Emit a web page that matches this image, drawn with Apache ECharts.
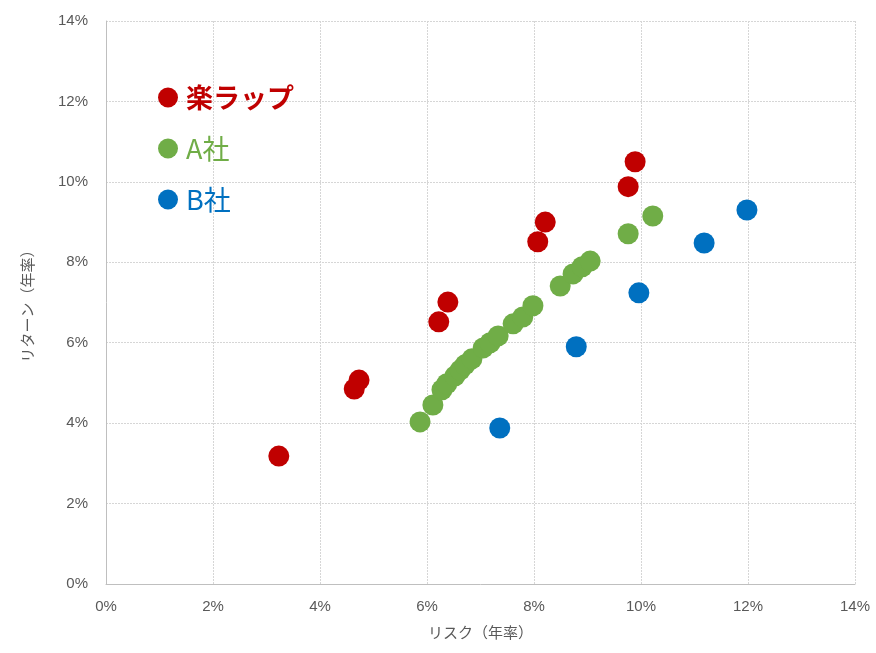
<html>
  <head>
    <meta charset="utf-8" />
    <script src="https://cdn.jsdelivr.net/npm/echarts@6/dist/echarts.min.js"></script>
  </head>
  <body>
    <style>
      html,
      body,
      #main {
        width: 100%;
        height: 100%;
        margin: 0;
        background: #fff;
      }
    </style>
    <div id="main"></div>
    <script>
      // [risk %, return %]
      const rakuWrap = [
        [3.23, 3.18], [4.64, 4.85], [4.73, 5.07], [6.22, 6.52], [6.39, 7.01],
        [8.07, 8.51], [8.21, 9.0], [9.76, 9.88], [9.89, 10.5],
      ];
      const companyA = [
        [5.87, 4.03], [6.11, 4.45], [6.28, 4.83], [6.37, 4.98], [6.52, 5.17],
        [6.62, 5.32], [6.71, 5.45], [6.84, 5.6], [7.05, 5.87], [7.18, 6.0],
        [7.33, 6.17], [7.61, 6.47], [7.79, 6.64], [7.98, 6.92], [8.49, 7.41],
        [8.73, 7.71], [8.9, 7.89], [9.05, 8.03], [9.76, 8.71], [10.22, 9.15],
      ];
      const companyB = [
        [7.36, 3.88], [8.79, 5.9], [9.96, 7.24], [11.18, 8.48], [11.98, 9.3],
      ];
      const seriesNames = ["楽ラップ", "A社", "B社"];
      const colors = ["#C00000", "#70AD47", "#0070C0"];

      const font = "Liberation Sans, 'Noto Sans CJK JP', sans-serif";
      var chart = echarts.init(document.getElementById("main"));

      const axisCommon = {
        type: "value",
        min: 0,
        max: 14,
        interval: 2,
        axisLine: { show: true, lineStyle: { color: "#BFBFBF", width: 1 } },
        axisTick: { show: false },
        splitLine: {
          show: true,
          lineStyle: { color: "#D6D6D6", type: [2, 1], width: 1 },
        },
        axisLabel: {
          formatter: "{value}%",
          color: "#595959",
          fontSize: 15,
          fontFamily: font,
        },
        nameTextStyle: { color: "#595959", fontSize: 15, fontFamily: font },
      };

      var option = {
        animation: false,
        color: colors,
        grid: { left: 106, right: 21, top: 21, bottom: 69, containLabel: false },
        legend: {
          orient: "vertical",
          left: 153,
          top: 79,
          itemWidth: 20,
          itemHeight: 20,
          itemGap: 24,
          icon: "circle",
          data: seriesNames.map((name, i) => ({
            name,
            textStyle: {
              color: colors[i],
              fontSize: 27,
              fontWeight: i === 0 ? "bold" : "normal",
              fontFamily: "'Noto Sans CJK JP', sans-serif",
              padding: [0, 0, 0, 3],
            },
          })),
        },
        xAxis: Object.assign({}, axisCommon, {
          name: "リスク（年率）",
          nameLocation: "middle",
          nameGap: 42,
          axisLabel: Object.assign({}, axisCommon.axisLabel, { margin: 15 }),
        }),
        yAxis: Object.assign({}, axisCommon, {
          name: "リターン（年率）",
          nameLocation: "middle",
          nameGap: 70,
          axisLabel: Object.assign({}, axisCommon.axisLabel, { margin: 18 }),
        }),
        series: [rakuWrap, companyA, companyB].map((d, i) => ({
          name: seriesNames[i],
          type: "scatter",
          symbolSize: 21,
          itemStyle: { color: colors[i], opacity: 1 },
          data: d,
        })),
      };

      chart.setOption(option);
      window.onresize = chart.resize;
    </script>
  </body>
</html>
